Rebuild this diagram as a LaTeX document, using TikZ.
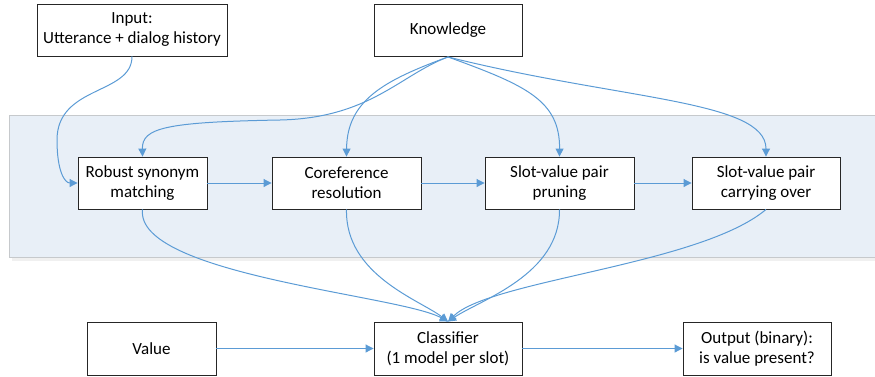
\documentclass[tikz,border=0pt]{standalone}
\usepackage{fontspec}
\setmainfont{Carlito}
\usetikzlibrary{arrows.meta}
\definecolor{lineblue}{HTML}{5B9BD5}
\definecolor{bandfill}{HTML}{E8EFF7}
\definecolor{bandedge}{HTML}{C6C9CC}
\begin{document}
\begin{tikzpicture}[x=1pt,y=-1pt,
  box/.style={draw=black!85,line width=0.9pt,fill=white,align=center,inner sep=0pt,
    font=\fontsize{17}{20}\selectfont,minimum height=52pt},
  conn/.style={draw=lineblue,line width=1pt,-{Triangle[length=8pt,width=8pt]}}]
\useasboundingbox (0,0) rectangle (875,376);
% band
\fill[black!6] (12,119) rectangle (880,261);
\filldraw[fill=bandfill,draw=bandedge,line width=1pt] (9,115) rectangle (880,257);
% nodes
\node[box,minimum width=190pt] (inp) at (132,30) {Input:\\Utterance + dialog history};
\node[box,minimum width=148pt] (know) at (448,30.5) {Knowledge};
\node[box,minimum width=129pt] (rob) at (142.5,183) {Robust synonym\\matching};
\node[box,minimum width=149pt] (cor) at (346.5,183) {Coreference\\resolution};
\node[box,minimum width=149pt] (pru) at (559.5,183) {Slot-value pair\\pruning};
\node[box,minimum width=148pt] (car) at (766,183) {Slot-value pair\\carrying over};
\node[box,minimum width=129pt,minimum height=53pt] (val) at (151.5,348.5) {Value};
\node[box,minimum width=148pt,minimum height=53pt] (cls) at (448,348.5) {Classifier\\(1 model per slot)};
\node[box,minimum width=148pt,minimum height=53pt] (out) at (757,348.5) {Output (binary):\\is value present?};
% input to robust
\draw[conn] (inp.south) .. controls (132,95) and (57,85) .. (57,140) .. controls (57,172) and (65,183) .. (rob.west);
% knowledge fan-out
\draw[conn] (know.south) .. controls (400,75) and (370,118) .. (280,120) .. controls (165,122) and (142,128) .. (rob.north);
\draw[conn] (know.south) .. controls (385,80) and (347,100) .. (cor.north);
\draw[conn] (know.south) .. controls (525,85) and (560,100) .. (pru.north);
\draw[conn] (know.south) .. controls (620,100) and (766,100) .. (car.north);
% horizontal chain
\draw[conn] (rob.east) -- (cor.west);
\draw[conn] (cor.east) -- (pru.west);
\draw[conn] (pru.east) -- (car.west);
% convergence to classifier
\draw[conn] (rob.south) .. controls (135,275) and (400,295) .. (cls.north);
\draw[conn] (cor.south) .. controls (345,275) and (420,300) .. (cls.north);
\draw[conn] (pru.south) .. controls (560,275) and (480,300) .. (cls.north);
\draw[conn] (car.south) .. controls (700,265) and (490,280) .. (cls.north);
% bottom row
\draw[conn] (val.east) -- (cls.west);
\draw[conn] (cls.east) -- (out.west);
\end{tikzpicture}
\end{document}
